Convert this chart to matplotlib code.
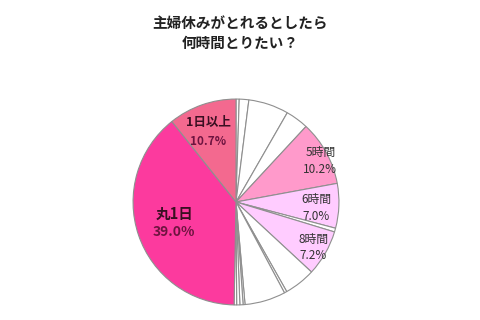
import matplotlib.pyplot as plt

plt.rcParams['font.family'] = ['Noto Sans CJK JP', 'DejaVu Sans']

# 回答の割合（12時の位置から時計回り）
labels = ['', '', '', '', '5時間', '6時間', '', '8時間',
          '', '', '', '', '', '', '', '丸1日', '1日以上']
values = [0.5, 1.5, 6.3, 3.6, 10.2, 7.0, 0.6, 7.2,
          4.9, 0.4, 6.4, 0.3, 0.5, 0.5, 0.4, 39.0, 10.7]
colors = ['white'] * 4 + ['#FF9ACB', '#FFCCFF', 'white', '#FFCCFF'] + \
         ['white'] * 7 + ['#FC3A9E', '#F3698F']

fig = plt.figure(figsize=(4.8, 3.2), dpi=100)
fig.patch.set_facecolor('white')

# 円の中心 (236, 202) px、半径 105 px
ax = fig.add_axes([131 / 480, 13 / 320, 210 / 480, 210 / 320])
ax.pie(values, colors=colors, startangle=90, counterclock=False,
       radius=1.0, wedgeprops=dict(edgecolor='#8f8f8f', linewidth=0.8))
ax.set_xlim(-1.02, 1.02)
ax.set_ylim(-1.02, 1.02)
ax.set_aspect('equal')
ax.axis('off')

# ラベル（位置は円の座標で指定）
label_pos = {
    '丸1日': (-0.60, -0.20),
    '1日以上': (-0.27, 0.68),
    '5時間': (0.82, 0.40),
    '6時間': (0.78, -0.06),
    '8時間': (0.75, -0.44),
}
for name, v in zip(labels, values):
    if not name:
        continue
    x, y = label_pos[name]
    if name in ('丸1日', '1日以上'):
        size = 10.5 if name == '丸1日' else 9
        ax.text(x, y + 0.09, name, ha='center', va='center', fontsize=size,
                fontweight='bold', color='#3a0f22')
        ax.text(x, y - 0.09, f'{v:.1f}%', ha='center', va='center',
                fontsize=size - 0.5, fontweight='bold', color='#6e1440')
    else:
        ax.text(x, y + 0.08, name, ha='center', va='center', fontsize=8.5,
                color='#333333')
        ax.text(x, y - 0.08, f'{v:.1f}%', ha='center', va='center',
                fontsize=8.5, color='#333333')

fig.text(0.5, 1 - 33 / 320, '主婦休みがとれるとしたら\n何時間とりたい？',
         ha='center', va='center', fontsize=10.5, fontweight='bold',
         color='#222222', linespacing=1.25)

fig.savefig('out.png', dpi=100)
